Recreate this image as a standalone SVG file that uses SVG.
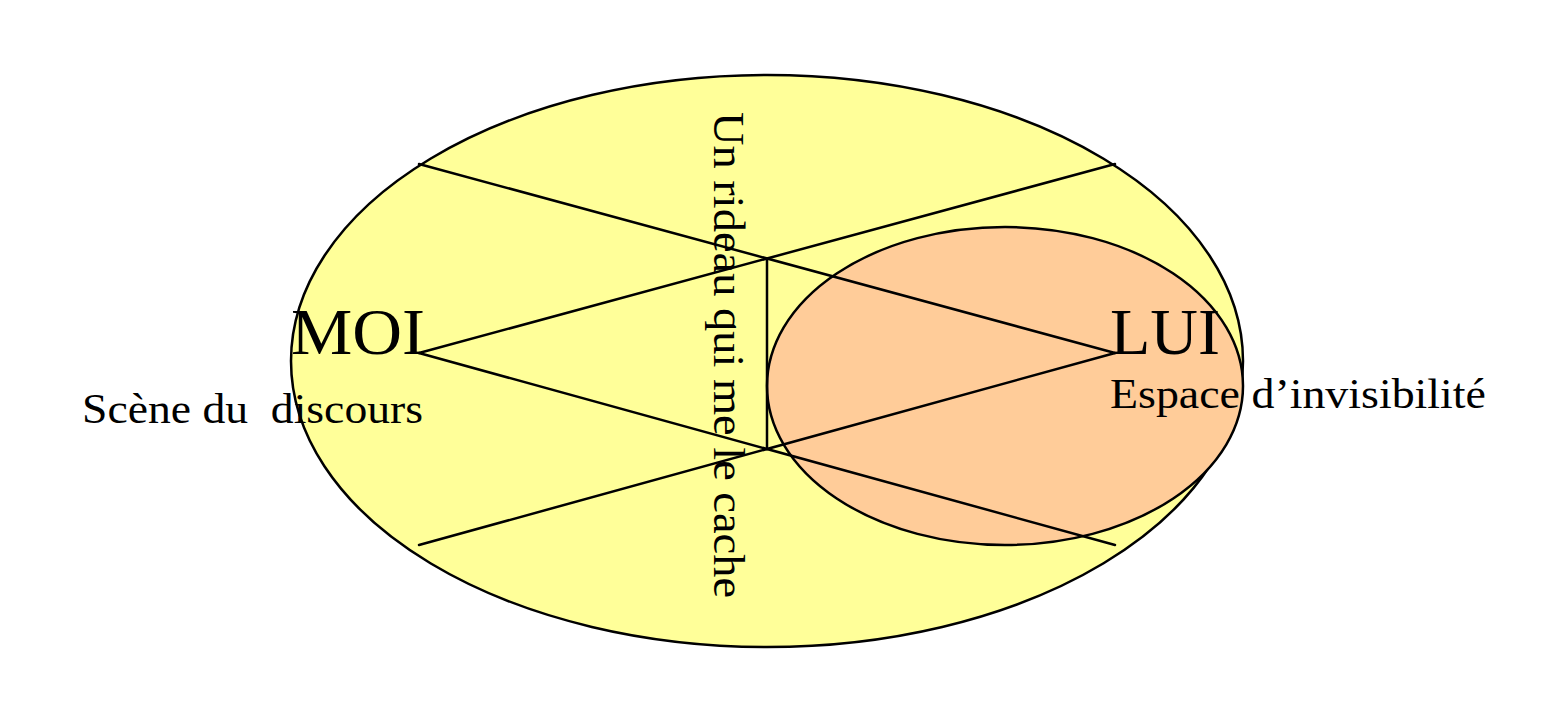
<svg xmlns="http://www.w3.org/2000/svg" width="1564" height="712" viewBox="0 0 1564 712">
<style>
.ln{stroke:#000;stroke-width:2.5;fill:none;stroke-linecap:round}
.t{font-family:"Liberation Serif","Times New Roman",serif;fill:#000}
</style>
<rect width="1564" height="712" fill="#fff"/>
<g id="scene">
<ellipse cx="767" cy="361" rx="476" ry="286" fill="#FFFF99" stroke="#000" stroke-width="2.5"/>
</g>
<g id="espace">
<ellipse cx="1005" cy="386" rx="238" ry="159" fill="#FFCC99" stroke="#000" stroke-width="2.5"/>
</g>
<g id="connectors">
<line class="ln" x1="419" y1="164" x2="1115" y2="353"/>
<line class="ln" x1="1115" y1="164" x2="419" y2="353"/>
<line class="ln" x1="419" y1="353" x2="1115" y2="545"/>
<line class="ln" x1="419" y1="545" x2="1115" y2="353"/>
<line class="ln" x1="767" y1="259" x2="767" y2="449"/>
</g>
<g id="moi">
<text class="t" x="291" y="354" font-size="65" textLength="134" lengthAdjust="spacingAndGlyphs">MOI</text>
<text class="t" x="82" y="423" font-size="43" textLength="341" lengthAdjust="spacingAndGlyphs" xml:space="preserve">Scène du  discours</text>
</g>
<g id="lui">
<text class="t" x="1110" y="354" font-size="65" textLength="110" lengthAdjust="spacingAndGlyphs">LUI</text>
<text class="t" x="1110" y="408" font-size="43" textLength="376" lengthAdjust="spacingAndGlyphs">Espace d’invisibilité</text>
</g>
<g id="rideau">
<text class="t" transform="translate(714,112) rotate(90)" x="0" y="0" font-size="44" textLength="486" lengthAdjust="spacingAndGlyphs">Un rideau qui me le cache</text>
</g>
</svg>
